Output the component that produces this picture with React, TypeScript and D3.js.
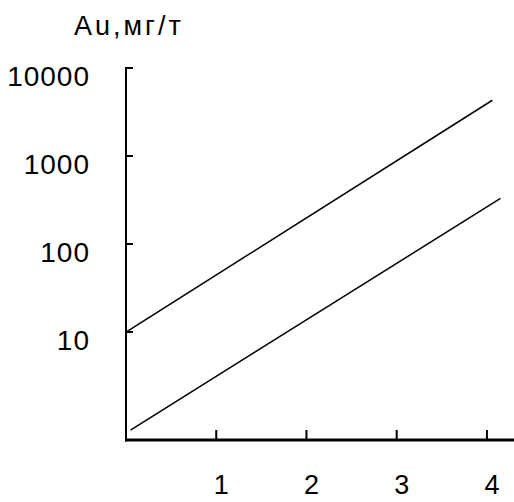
import * as d3 from 'd3'

// data
const X_TICKS = [1, 2, 3, 4]
const Y_TICKS = [10, 100, 1000, 10000]
const Y_LABELS = ['10', '100', '1000', '10000']
const UPPER_X = [0, 4.06]
const UPPER_Y = [10, 4300]
const LOWER_X = [0.05, 4.15]
const LOWER_Y = [0.77, 330]
const TITLE = 'Au,мг/т'

const W = 514
const H = 502
const FONT = '"Liberation Sans", Arial, sans-serif'

export default function App() {
  const x = d3.scaleLinear().domain([0, 4.3]).range([126, 514])
  const y = d3.scaleLog().domain([0.593, 10000]).range([440, 68])

  const line = d3.line<[number, number]>().x(d => x(d[0])).y(d => y(d[1]))
  const upper = UPPER_X.map((v, i) => [v, UPPER_Y[i]] as [number, number])
  const lower = LOWER_X.map((v, i) => [v, LOWER_Y[i]] as [number, number])

  const x0 = x(0)
  const yBottom = y.range()[0]
  const yTop = y.range()[1]

  return (
    <div style={{ position: 'absolute', left: 0, top: 0 }}>
      <svg width={W} height={H} style={{ display: 'block', background: '#fff' }} fontFamily={FONT}>
        <text x={74} y={35} fontSize={27} letterSpacing={3} fill="#000">{TITLE}</text>

        {/* axes */}
        <line x1={x0} x2={x0} y1={yTop - 1} y2={yBottom + 1.5} stroke="#000" strokeWidth={2} />
        <line x1={x0 - 1} x2={x.range()[1]} y1={yBottom} y2={yBottom} stroke="#000" strokeWidth={3} />

        {Y_TICKS.map((v, i) => (
          <g key={v}>
            <line x1={x0} x2={x0 + 7} y1={y(v)} y2={y(v)} stroke="#000" strokeWidth={2} />
            <text x={90} y={y(v) + 18} textAnchor="end" fontSize={28} letterSpacing={1} fill="#000">{Y_LABELS[i]}</text>
          </g>
        ))}

        {X_TICKS.map(v => (
          <g key={v}>
            <line x1={x(v)} x2={x(v)} y1={yBottom} y2={yBottom - 10} stroke="#000" strokeWidth={2} />
            <text x={x(v) + 5} y={494} textAnchor="middle" fontSize={27} fill="#000">{v}</text>
          </g>
        ))}

        <path d={line(upper) ?? ''} fill="none" stroke="#000" strokeWidth={1.5} />
        <path d={line(lower) ?? ''} fill="none" stroke="#000" strokeWidth={1.5} />
      </svg>
    </div>
  )
}
